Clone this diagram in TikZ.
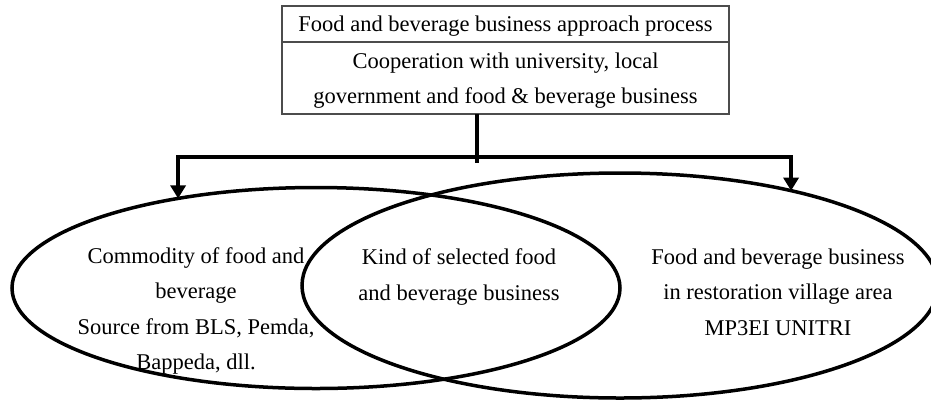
\documentclass[tikz,border=0pt]{standalone}
\usepackage{fontspec}
\setmainfont{Liberation Serif}
\usepackage{tikz}
\usetikzlibrary{positioning,arrows.meta,shapes.geometric}
\newcommand\bigfont{\fontsize{22.5}{35.5}\selectfont}

\begin{document}
\begin{tikzpicture}[x=1pt,y=-1pt,
  cell/.style={draw=black!70, line width=1.3pt, minimum width=447pt, inner sep=0pt, outer sep=0pt, align=center, font=\bigfont, text depth=0pt},
  ring/.style={draw, ellipse, line width=3.5pt, inner sep=0pt, outer sep=0pt},
  txt/.style={align=center, font=\bigfont, inner sep=0pt},
  flow/.style={line width=3.5pt, -{Triangle[width=15pt,length=13pt]}}]
\useasboundingbox (0,0) rectangle (931,400);

% Header
\node[cell, minimum height=36pt] (title) at (505.5,24) {Food and beverage business approach process};
\node[cell, minimum height=72pt, below=0pt of title] (coop) {Cooperation with university, local\\government and food \& beverage business};

% Ellipses
\node[ring, minimum width=608pt, minimum height=201pt] (comm) at (316,288) {};
\node[ring, minimum width=636pt, minimum height=225pt] (biz) at (620,285.5) {};

% Texts
\node[txt] (commtxt) at (196,311) {Commodity of food and\\beverage\\Source from BLS, Pemda,\\Bappeda, dll.};
\node[txt] (kindtxt) at (459,277) {Kind of selected food\\and beverage business};
\node[txt] (biztxt) at (778,292) {Food and beverage business\\in restoration village area\\MP3EI UNITRI};

% Connectors
\coordinate (hub) at (477,157);
\coordinate (stub) at (477,163);
\draw[line width=3.5pt] (coop.south -| stub) -- (stub);
\draw[flow] (hub) -| (comm.147);
\draw[flow] (hub) -| (biz.29);
\end{tikzpicture}
\end{document}
